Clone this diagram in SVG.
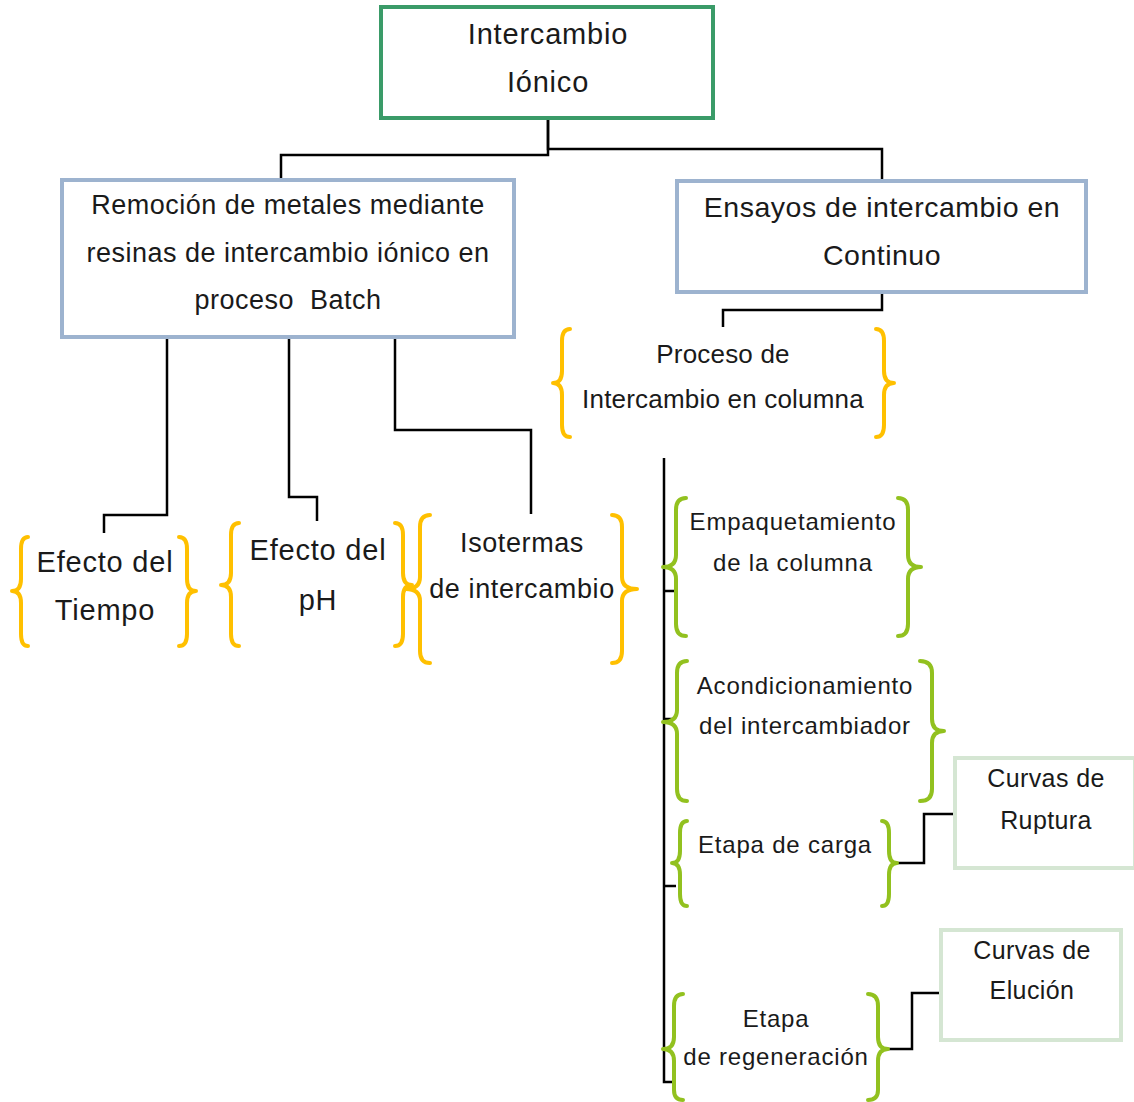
<svg xmlns="http://www.w3.org/2000/svg" width="1134" height="1102" viewBox="0 0 1134 1102">
<style>
text{font-family:"Liberation Sans",Arial,sans-serif;fill:#1a1a1a;text-anchor:middle}
.t28{font-size:29px;letter-spacing:0.8px}
.ens{font-size:28.5px;letter-spacing:0.5px}
.t26{font-size:27px;letter-spacing:0.5px}
.pro{font-size:26px;letter-spacing:0.2px}
.iso{font-size:27px;letter-spacing:0.6px}
.t24{font-size:25px;letter-spacing:0.4px}
.t22{font-size:24px;letter-spacing:0.8px}
.pre{white-space:pre}
.c{fill:none;stroke:#000;stroke-width:2.5}
.y{fill:none;stroke:#FFC000;stroke-width:4;stroke-linecap:round;stroke-linejoin:round}
.g{fill:none;stroke:#92C11F;stroke-width:4;stroke-linecap:round;stroke-linejoin:round}
</style>
<rect width="1134" height="1102" fill="#fff"/>
<g id="connectors">
<path class="c" d="M548,120 V155 H281 V179"/>
<path class="c" d="M548,120 V149 H882 V179"/>
<path class="c" d="M882,293 V310 H723 V327"/>
<path class="c" d="M167,338 V515 H104 V533"/>
<path class="c" d="M289,338 V497 H317 V521"/>
<path class="c" d="M395,338 V430 H531 V514"/>
<path class="c" d="M664,458 V1082 H672"/>
<path class="c" d="M664,591 H674"/>
<path class="c" d="M664,719 H674"/>
<path class="c" d="M664,886 H676"/>
<path class="c" d="M897,863 H924 V814 H955"/>
<path class="c" d="M886,1049 H912 V993 H941"/>
</g>
<g id="n-intercambio">
<rect x="381" y="7" width="332" height="111" fill="#fff" stroke="#3A9B68" stroke-width="4"/>
<text class="t28" x="548" y="44">Intercambio</text>
<text class="t28" x="548" y="92">Iónico</text>
</g>
<g id="n-batch">
<rect x="62" y="180" width="452" height="157" fill="#fff" stroke="#9DB3CF" stroke-width="4"/>
<text class="t26" x="288" y="214">Remoción de metales mediante</text>
<text class="t26" x="288" y="262">resinas de intercambio iónico en</text>
<text class="t26 pre" x="288" y="309" xml:space="preserve">proceso  Batch</text>
</g>
<g id="n-continuo">
<rect x="677" y="181" width="409" height="111" fill="#fff" stroke="#9DB3CF" stroke-width="4"/>
<text class="ens" x="882" y="217">Ensayos de intercambio en</text>
<text class="ens" x="882" y="265">Continuo</text>
</g>
<g id="n-proceso">
<path class="y" d="M570,329 Q562,329 562,341 V371 Q562,383 553,383 Q562,383 562,395 V425 Q562,437 570,437"/>
<path class="y" d="M876,329 Q884,329 884,341 V371 Q884,383 894,383 Q884,383 884,395 V425 Q884,437 876,437"/>
<text class="pro" x="723" y="363">Proceso de</text>
<text class="pro" x="723" y="408">Intercambio en columna</text>
</g>
<g id="n-tiempo">
<path class="y" d="M28,537 Q21,537 21,549 V579 Q21,591 12,591 Q21,591 21,603 V634 Q21,646 28,646"/>
<path class="y" d="M179,537 Q187,537 187,549 V579 Q187,591 196,591 Q187,591 187,603 V634 Q187,646 179,646"/>
<text class="t28" x="105" y="572">Efecto del</text>
<text class="t28" x="105" y="620">Tiempo</text>
</g>
<g id="n-ph">
<path class="y" d="M239,523 Q231,523 231,535 V573 Q231,585 221,585 Q231,585 231,597 V634 Q231,646 239,646"/>
<path class="y" d="M395,523 Q403,523 403,535 V573 Q403,585 412,585 Q403,585 403,597 V634 Q403,646 395,646"/>
<text class="t28" x="318" y="560">Efecto del</text>
<text class="t28" x="318" y="610">pH</text>
</g>
<g id="n-isotermas">
<path class="y" d="M430,515 Q420,515 420,527 V577 Q420,589 406,589 Q420,589 420,601 V651 Q420,663 430,663"/>
<path class="y" d="M612,515 Q622,515 622,527 V577 Q622,589 637,589 Q622,589 622,601 V651 Q622,663 612,663"/>
<text class="iso" x="522" y="552">Isotermas</text>
<text class="iso" x="522" y="598">de intercambio</text>
</g>
<g id="n-empaquetamiento">
<path class="g" d="M686,498 Q676,498 676,510 V555 Q676,567 663,567 Q676,567 676,579 V624 Q676,636 686,636"/>
<path class="g" d="M898,498 Q908,498 908,510 V555 Q908,567 921,567 Q908,567 908,579 V624 Q908,636 898,636"/>
<text class="t22" x="793" y="530">Empaquetamiento</text>
<text class="t22" x="793" y="571">de la columna</text>
</g>
<g id="n-acondicionamiento">
<path class="g" d="M687,661 Q677,661 677,673 V710 Q677,722 663,722 Q677,722 677,734 V789 Q677,801 687,801"/>
<path class="g" d="M920,661 Q932,661 932,673 V719 Q932,731 944,731 Q932,731 932,743 V789 Q932,801 920,801"/>
<text class="t22" x="805" y="694">Acondicionamiento</text>
<text class="t22" x="805" y="734">del intercambiador</text>
</g>
<g id="n-carga">
<path class="g" d="M687,821 Q680,821 680,833 V851 Q680,863 672,863 Q680,863 680,875 V894 Q680,906 687,906"/>
<path class="g" d="M882,821 Q889,821 889,833 V851 Q889,863 897,863 Q889,863 889,875 V894 Q889,906 882,906"/>
<text class="t22" x="785" y="853">Etapa de carga</text>
</g>
<g id="n-regeneracion">
<path class="g" d="M683,994 Q674,994 674,1006 V1037 Q674,1049 663,1049 Q674,1049 674,1061 V1090 Q674,1100 683,1100"/>
<path class="g" d="M868,994 Q878,994 878,1006 V1037 Q878,1049 888,1049 Q878,1049 878,1061 V1090 Q878,1100 868,1100"/>
<text class="t22" x="776" y="1027">Etapa</text>
<text class="t22" x="776" y="1065">de regeneración</text>
</g>
<g id="n-ruptura">
<rect x="955" y="758" width="180" height="110" fill="#fff" stroke="#D5E6D3" stroke-width="4"/>
<text class="t24" x="1046" y="787">Curvas de</text>
<text class="t24" x="1046" y="829">Ruptura</text>
</g>
<g id="n-elucion">
<rect x="941" y="930" width="180" height="110" fill="#fff" stroke="#D5E6D3" stroke-width="4"/>
<text class="t24" x="1032" y="959">Curvas de</text>
<text class="t24" x="1032" y="999">Elución</text>
</g>
</svg>
